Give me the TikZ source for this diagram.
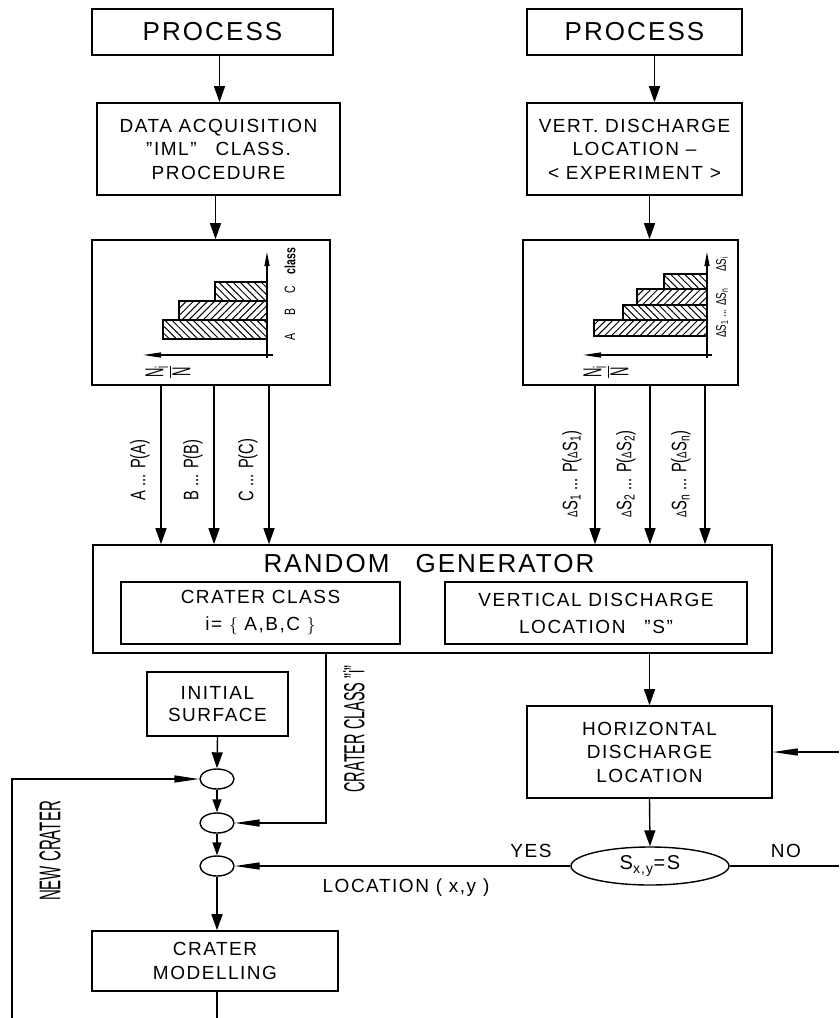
\documentclass[tikz,border=0pt]{standalone}
\usepackage{fontspec}
\usepackage{amsmath}
\setmainfont{Liberation Sans}[LetterSpace=8]
\newfontfamily\condfont{Liberation Sans}[FakeStretch=0.7]
\newfontfamily\narrowfont{Liberation Sans}[FakeStretch=0.5]
\usetikzlibrary{
    arrows.meta,
    shapes.geometric,
    patterns.meta
}
\newcommand{\dlS}[1]{{\fontsize{14}{14}\selectfont Δ}S\textsubscript{#1}}
\tikzset{
    box/.style={draw, line width=1.6pt, inner sep=0pt, align=center, font=\fontsize{19}{23.5}\selectfont},
    big/.style={font=\fontsize{26}{28}\selectfont},
    arr/.style={line width=1.4pt, -{Triangle[width=11pt,length=16pt]}},
    sarr/.style={line width=1.4pt, -{Triangle[width=9pt,length=13pt]}},
    wedge/.style={line width=1.4pt, -{Triangle[width=7pt,length=25pt]}},
    plain/.style={line width=1.4pt},
    junction/.style={draw, ellipse, line width=1.4pt, inner sep=0pt, minimum width=34pt, minimum height=20pt},
    vlabel/.style={rotate=90, inner sep=0pt, font=\condfont\fontsize{21}{21}\selectfont},
    tall/.style={rotate=90, inner sep=0pt, font=\narrowfont\fontsize{30}{30}\selectfont},
    tick/.style={rotate=90, inner sep=0pt, font=\condfont\fontsize{15}{15}\selectfont},
    frac/.style={rotate=90, inner sep=0pt, font=\narrowfont\fontsize{26}{26}\selectfont},
    txt/.style={inner sep=0pt, font=\fontsize{19}{20}\selectfont},
    axis/.style={line width=1.2pt},
    bar/.style={draw, line width=1.1pt},
    hne/.style={pattern={Lines[angle=45,distance=5pt,line width=1pt]}},
    hnw/.style={pattern={Lines[angle=-45,distance=5pt,line width=1pt]}}
}
\begin{document}
\begin{tikzpicture}[x=1pt, y=-1pt]
    \useasboundingbox (0,0) rectangle (839,1018);

    % Left column
    \node[box, big, minimum width=241pt, minimum height=46pt] (proc1) at (212.5,32) {PROCESS};
    \node[box, minimum width=243pt, minimum height=92pt] (daq) at (218.5,149) {DATA ACQUISITION\\”IML”\quad CLASS.\\PROCEDURE};
    \node[box, minimum width=238pt, minimum height=145pt] (hist1) at (211,312.5) {};

    % Right column
    \node[box, big, minimum width=215pt, minimum height=46pt] (proc2) at (634.5,32) {PROCESS};
    \node[box, minimum width=215pt, minimum height=92pt] (vdis) at (634.5,149) {VERT. DISCHARGE\\LOCATION --\\< EXPERIMENT >};
    \node[box, minimum width=215pt, minimum height=145pt] (hist2) at (630.5,312.5) {};

    \draw[arr] ([xshift=7pt]proc1.south) -- ([xshift=7pt]proc1.south |- daq.north);
    \draw[arr] ([xshift=-3pt]daq.south) -- ([xshift=-3pt]daq.south |- hist1.north);
    \draw[arr] ([xshift=20pt]proc2.south) -- ([xshift=20pt]proc2.south |- vdis.north);
    \draw[arr] ([xshift=15pt]vdis.south) -- ([xshift=15pt]vdis.south |- hist2.north);

    % Histogram of classes
    \draw[bar, hnw] (163,320) rectangle (267,339);
    \draw[bar, hne] (179,301) rectangle (267,320);
    \draw[bar, hnw] (215,282) rectangle (267,301);
    \draw[axis, -{Triangle[width=5pt,length=14pt]}] (267,358) -- (267,252);
    \draw[axis, -{Triangle[width=5pt,length=18pt]}] (273,355) -- (143,355);
    \node[tick] (ta) at (290,337) {A};
    \node[tick] (tb) at (290,312) {B};
    \node[tick] (tc) at (290,290) {C};
    \node[tick, font=\condfont\bfseries\fontsize{15}{15}\selectfont] (tcl) at (290,261) {class};
    \node[frac] (nf1) at (168,372) {$\genfrac{}{}{1.5pt}{}{\hbox{N\textsubscript{i}}}{\hbox{N}}$};

    % Histogram of discharge steps
    \draw[bar, hne] (594,320) rectangle (707,336);
    \draw[bar, hnw] (623,305) rectangle (707,320);
    \draw[bar, hne] (637,289) rectangle (707,305);
    \draw[bar, hnw] (664,274) rectangle (707,289);
    \draw[axis, -{Triangle[width=5pt,length=14pt]}] (707,358) -- (707,252);
    \draw[axis, -{Triangle[width=5pt,length=18pt]}] (712,355) -- (583,355);
    \node[tick, font=\condfont\fontsize{14}{14}\selectfont] (ts) at (722,313) {\dlS{1} ... \dlS{n}};
    \node[tick, font=\condfont\fontsize{14}{14}\selectfont] (tsi) at (722,264) {\dlS{i}};
    \node[frac] (nf2) at (606,372) {$\genfrac{}{}{1.5pt}{}{\hbox{N\textsubscript{i}}}{\hbox{N}}$};

    % Random generator
    \node[box, minimum width=679pt, minimum height=108pt] (rgen) at (432.5,599) {};
    \node[txt, big] (rgtitle) at (429,564) {RANDOM\quad GENERATOR};
    \node[box, font=\fontsize{19}{27}\selectfont, minimum width=279pt, minimum height=62pt] (cclass) at (260.5,613)
        {CRATER CLASS\\i= $\{$ A,B,C $\}$};
    \node[box, font=\fontsize{19}{27}\selectfont, minimum width=302pt, minimum height=62pt] (vloc) at (596,613)
        {VERTICAL DISCHARGE\\LOCATION\quad ”S”};

    % Probabilities
    \foreach \dx in {-50,3,58}
        \draw[arr] ([xshift=\dx pt]hist1.south) -- ([xshift=\dx pt]hist1.south |- rgen.north);
    \foreach \dx in {-35.5,19.5,74.5}
        \draw[arr] ([xshift=\dx pt]hist2.south) -- ([xshift=\dx pt]hist2.south |- rgen.north);
    \node[vlabel] (pa) at (140,470) {A ... P(A)};
    \node[vlabel] (pb) at (193,470) {B ... P(B)};
    \node[vlabel] (pc) at (248,470) {C ... P(C)};
    \node[vlabel] (ps1) at (572,474) {\dlS{1} ... P(\dlS{1})};
    \node[vlabel] (ps2) at (626,474) {\dlS{2} ... P(\dlS{2})};
    \node[vlabel] (psn) at (681,474) {\dlS{n} ... P(\dlS{n})};

    % Horizontal location
    \node[box, minimum width=245pt, minimum height=92pt] (hdis) at (649.5,752) {HORIZONTAL\\DISCHARGE\\LOCATION};
    \node[draw, ellipse, line width=1.4pt, inner sep=0pt, minimum width=158pt, minimum height=38pt,
        font=\fontsize{20}{20}\selectfont] (sxy) at (650,866) {S\textsubscript{x,y}=S};
    \draw[arr] (hdis.north |- rgen.south) -- (hdis.north);
    \draw[arr] (hdis.south) -- (sxy.north);
    \coordinate (rin) at (839,752);
    \coordinate (rout) at (839,866);
    \draw[wedge] (rin) -- (hdis.east);
    \draw[plain] (sxy.east) -- (rout);
    \node[txt] (yes) at (531,851) {YES};
    \node[txt] (no) at (786,851) {NO};

    % Crater chain
    \node[box, minimum width=141pt, minimum height=64pt, font=\fontsize{19}{22}\selectfont] (init) at (217.5,704) {INITIAL\\SURFACE};
    \node[junction] (j1) at (217,779) {};
    \node[junction] (j2) at (217,823) {};
    \node[junction] (j3) at (217,866) {};
    \node[box, minimum width=246pt, minimum height=60pt] (cmod) at (215,961) {CRATER\\MODELLING};
    \draw[arr] (init.south) -- (j1.north);
    \draw[sarr] (j1.south) -- (j2.north);
    \draw[sarr] (j2.south) -- (j3.north);
    \draw[arr] (j3.south) -- (j3.south |- cmod.north);
    \coordinate (bot) at (217,1018);
    \draw[plain] (cmod.south -| bot) -- (bot);
    \draw[wedge] ([xshift=-106.5pt]rgen.south) |- (j2.east);
    \draw[wedge] (sxy.west) -- (j3.east);
    \node[txt] (loc) at (406,888) {LOCATION ( x,y )};
    \node[tall, font=\narrowfont\fontsize{29}{29}\selectfont] (ccl) at (354,729) {CRATER CLASS ”i”};

    % New crater loop
    \coordinate (lft) at (12,1018);
    \draw[wedge] (lft) |- (j1.west);
    \node[tall] (newc) at (50,851) {NEW CRATER};
\end{tikzpicture}
\end{document}
